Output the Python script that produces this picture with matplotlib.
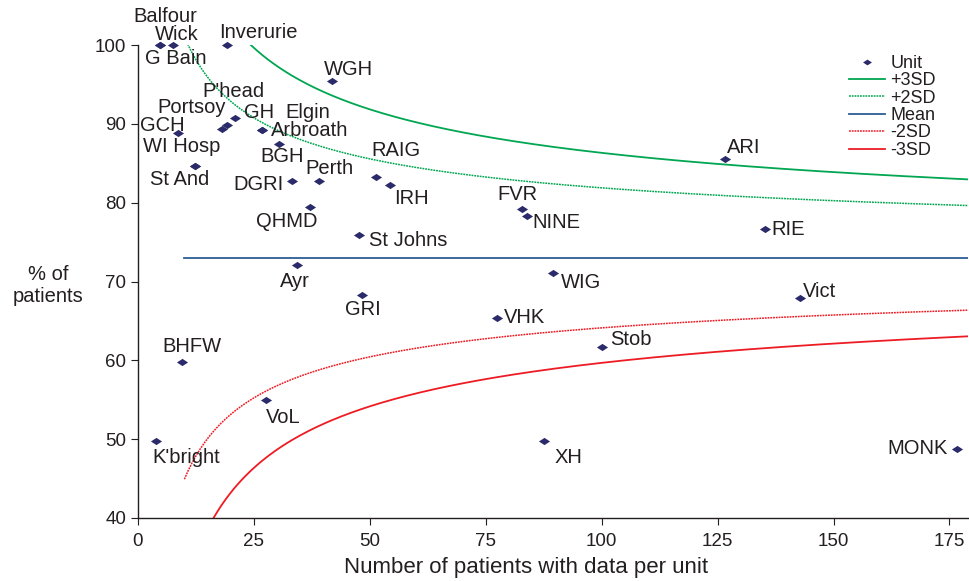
import numpy as np
import matplotlib
matplotlib.use("Agg")
import matplotlib.pyplot as plt
from matplotlib import font_manager

# unit data: name, patients with data, % of patients
units = ["Balfour", "G Bain", "Wick", "Inverurie", "WGH", "P'head", "Portsoy",
         "GH", "Elgin", "Arbroath", "BGH", "GCH", "WI Hosp", "St And", "DGRI",
         "Perth", "RAIG", "IRH", "QHMD", "St Johns", "FVR", "NINE", "Ayr", "GRI",
         "WIG", "VHK", "Stob", "XH", "ARI", "RIE", "Vict", "MONK", "BHFW",
         "K'bright", "VoL"]
n_patients = [4.7, 4.7, 7.5, 19.1, 41.9, 21.0, 19.1,
              18.1, 26.7, 26.7, 30.5, 8.6, 12.4, 12.4, 33.3,
              39.0, 51.3, 54.3, 37.1, 47.6, 82.8, 83.8, 34.3, 48.3,
              89.5, 77.4, 100.0, 87.6, 126.6, 135.2, 142.8, 176.7, 9.5,
              3.8, 27.6]
pct = [100, 100, 100, 100, 95.4, 90.8, 89.9,
       89.4, 89.2, 89.2, 87.4, 88.8, 84.6, 84.6, 82.7,
       82.7, 83.3, 82.3, 79.4, 75.9, 79.2, 78.3, 72.1, 68.3,
       71.1, 65.4, 61.7, 49.8, 85.6, 76.6, 67.9, 48.8, 59.8,
       49.8, 55.0]

mean_pct = 73.0
n_min, n_max = 10, 179

# label offsets from each marker, in pixels (right, down)
label_offsets = {
    "Balfour": (6, -29), "G Bain": (16, 14), "Wick": (4, -10), "Inverurie": (32, -13),
    "WGH": (16, -12), "P'head": (-2, -26), "Portsoy": (-35, -17), "GH": (37, -16),
    "Elgin": (46, -18), "Arbroath": (48, 0), "BGH": (3, 12), "GCH": (-16, -8),
    "WI Hosp": (-14, -20), "St And": (-16, 13), "DGRI": (-34, 3), "Perth": (11, -13),
    "RAIG": (20, -26), "IRH": (22, 14), "QHMD": (-23, 14), "St Johns": (49, 6),
    "FVR": (-4, -14), "NINE": (30, 6), "Ayr": (-2, 17), "GRI": (1, 15),
    "WIG": (28, 10), "VHK": (28, 0), "Stob": (29, -7), "XH": (24, 17),
    "ARI": (19, -11), "RIE": (23, 0), "Vict": (19, -7), "MONK": (-40, 0),
    "BHFW": (10, -15), "K'bright": (31, 17), "VoL": (17, 18),
}

available = {f.name for f in font_manager.fontManager.ttflist}
base_font = "Liberation Sans" if "Liberation Sans" in available else "DejaVu Sans"
narrow_font = "Liberation Sans Narrow" if "Liberation Sans Narrow" in available else base_font
plt.rcParams["font.family"] = [base_font, "DejaVu Sans"]

text_col = "#231f20"
navy = "#2b2a6b"
green = "#00a651"
red = "#ed1c24"
mean_col = "#2c5d96"

fig = plt.figure(figsize=(9.7, 5.81), dpi=100)
ax = fig.add_axes([138 / 970, 1 - 518 / 581, 830 / 970, 473 / 581])

# control limits around the mean
n = np.linspace(n_min, n_max, 400)
p = mean_pct / 100
sd = np.sqrt(p * (1 - p) / n) * 100

diamond = [(-1, 0), (0, 0.65), (1, 0), (0, -0.65), (-1, 0)]
ax.plot(n_patients, pct, linestyle="none", marker=diamond, markersize=8,
        color=navy, markeredgewidth=0, label="Unit", clip_on=False, zorder=5)
ax.plot(n, mean_pct + 3 * sd, color=green, lw=1.3, label="+3SD")
ax.plot(n, mean_pct + 2 * sd, color=green, lw=1.1, ls=(0, (1.2, 0.6)), label="+2SD")
ax.plot([n_min, n_max], [mean_pct, mean_pct], color=mean_col, lw=1.3, label="Mean")
ax.plot(n, mean_pct - 2 * sd, color=red, lw=1.1, ls=(0, (1.2, 0.6)), label="-2SD")
ax.plot(n, mean_pct - 3 * sd, color=red, lw=1.3, label="-3SD")

px2pt = 72 / 100
for name, x, y in zip(units, n_patients, pct):
    dx, dy = label_offsets[name]
    ax.annotate(name, (x, y), xytext=(dx * px2pt, -dy * px2pt),
                textcoords="offset points", ha="center", va="center",
                fontsize=14.5, color=text_col, annotation_clip=False)

ax.set_xlim(0, n_max)
ax.set_ylim(40, 100)
ax.set_xticks([0, 25, 50, 75, 100, 125, 150, 175])
ax.set_yticks([40, 50, 60, 70, 80, 90, 100])
for s in ["top", "right"]:
    ax.spines[s].set_visible(False)
for s in ["left", "bottom"]:
    ax.spines[s].set_color(text_col)
    ax.spines[s].set_linewidth(1.0)
ax.tick_params(axis="both", direction="out", length=5, color=text_col,
               labelcolor=text_col)
ax.tick_params(axis="y", labelsize=13.5)
ax.tick_params(axis="x", labelsize=13.5, pad=6)
for lab in ax.get_xticklabels():
    lab.set_fontfamily([narrow_font, "DejaVu Sans"])

ax.set_xlabel("Number of patients with data per unit", fontsize=16,
              color=text_col, family=[narrow_font, "DejaVu Sans"])
ax.xaxis.set_label_coords((526 - 138) / 830, -(567 - 518) / 473)
ax.xaxis.label.set_va("center")
fig.text(48 / 970, 1 - 285 / 581, "% of\npatients", ha="center", va="center",
         fontsize=14.5, color=text_col)

leg = ax.legend(loc="upper left", bbox_to_anchor=(840 / 970, 1 - 46 / 581),
                bbox_transform=fig.transFigure, frameon=False, fontsize=13,
                handlelength=2.0, handletextpad=0.3, labelspacing=0.02,
                borderpad=0, markerscale=0.8)
for t in leg.get_texts():
    t.set_color(text_col)

fig.savefig("out.png", dpi=100)
